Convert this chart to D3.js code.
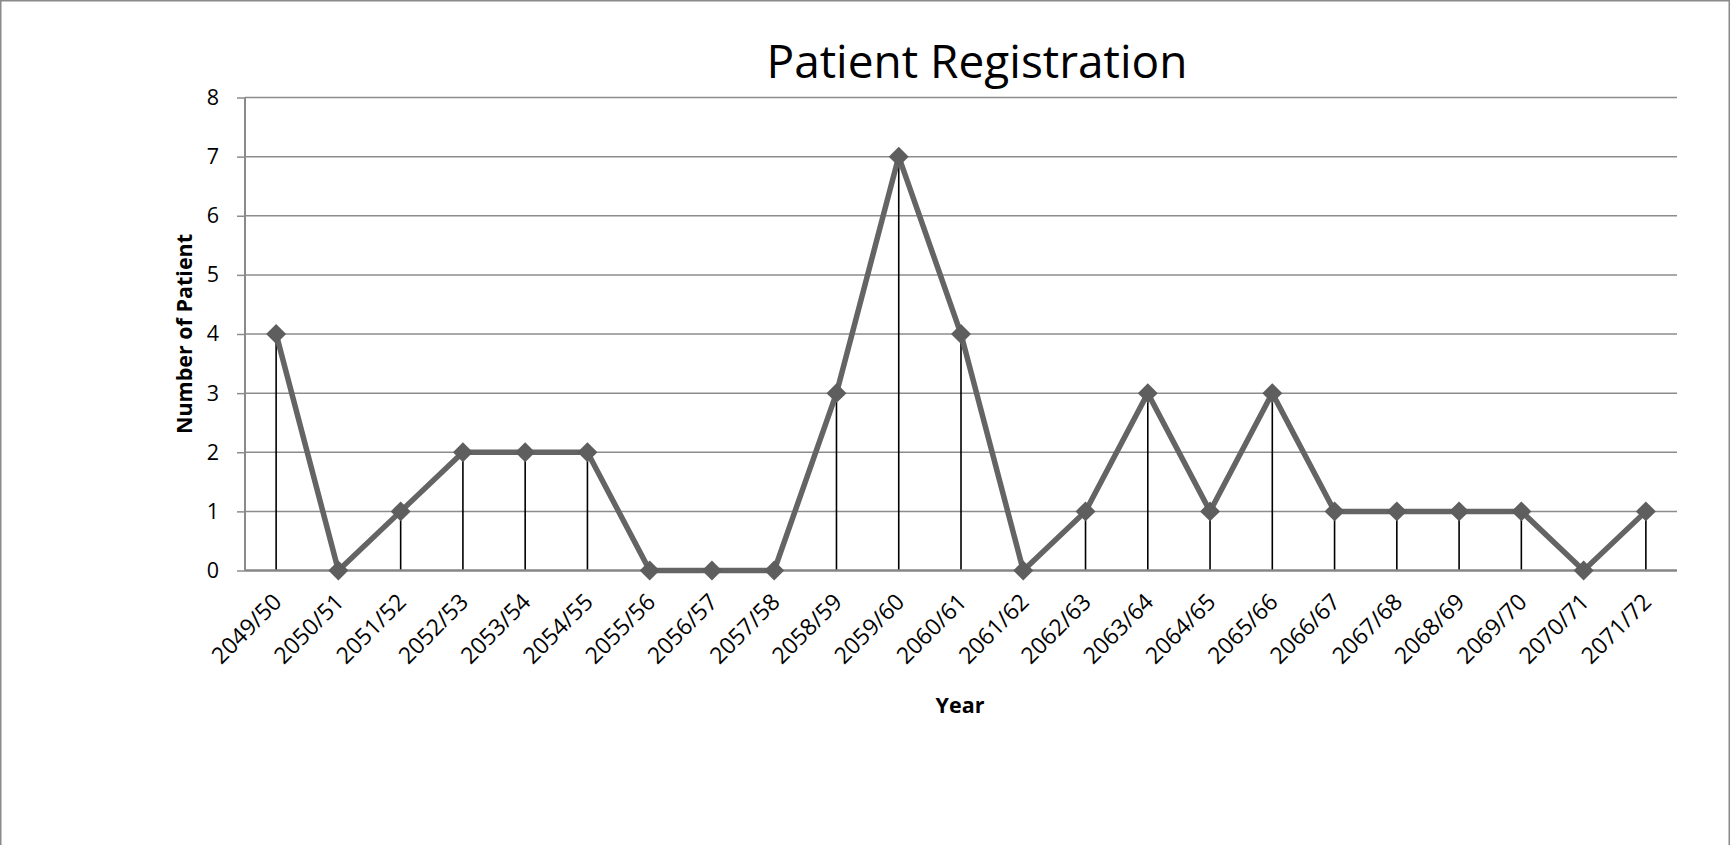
<!DOCTYPE html>
<html>
<head>
<meta charset="utf-8">
<script src="https://cdn.jsdelivr.net/npm/d3@7"></script>
<style>
    body { margin: 0; background: #ffffff; }
    text { font-family: "Open Sans", "Noto Sans", sans-serif; fill: #000; }
</style>
</head>
<body>
<div id="chart"></div>
<script>
// data
const years = ["2049/50", "2050/51", "2051/52", "2052/53", "2053/54", "2054/55", "2055/56",
    "2056/57", "2057/58", "2058/59", "2059/60", "2060/61", "2061/62", "2062/63", "2063/64",
    "2064/65", "2065/66", "2066/67", "2067/68", "2068/69", "2069/70", "2070/71", "2071/72"];
const patients = [4, 0, 1, 2, 2, 2, 0, 0, 0, 3, 7, 4, 0, 1, 3, 1, 3, 1, 1, 1, 1, 0, 1];
const yTicks = [0, 1, 2, 3, 4, 5, 6, 7, 8];

const svgWidth = 1730;
const svgHeight = 845;

const margin = { top: 97.5, right: 53, bottom: 274.5, left: 245 };
const chartWidth = svgWidth - margin.left - margin.right;
const chartHeight = svgHeight - margin.top - margin.bottom;

const svg = d3.select("#chart").append("svg")
    .attr("width", svgWidth)
    .attr("height", svgHeight);

// outer frame
svg.append("rect")
    .attr("x", 0.75).attr("y", 0.75)
    .attr("width", svgWidth - 1.5).attr("height", svgHeight + 10)
    .attr("fill", "none")
    .attr("stroke", "#8a8a8a")
    .attr("stroke-width", 1.5);

const chartGroup = svg.append("g")
    .attr("transform", `translate(${margin.left}, ${margin.top})`);

const xScale = d3.scaleBand()
    .domain(years)
    .range([0, chartWidth])
    .padding(0);

const yScale = d3.scaleLinear()
    .domain([0, 8])
    .range([chartHeight, 0]);

const xPos = d => xScale(d) + xScale.bandwidth() / 2;

// gridlines
chartGroup.append("g")
    .selectAll("line").data(yTicks.filter(t => t > 0))
    .enter().append("line")
    .attr("x1", 0)
    .attr("x2", chartWidth)
    .attr("y1", d => yScale(d))
    .attr("y2", d => yScale(d))
    .attr("stroke", "#8c8c8c")
    .attr("stroke-width", 1.5);

// y axis
const yAxis = d3.axisLeft(yScale)
    .tickValues(yTicks)
    .tickSize(8)
    .tickPadding(18)
    .tickFormat(d3.format("d"));

const yAxisG = chartGroup.append("g").call(yAxis);
yAxisG.select(".domain").remove();
yAxisG.selectAll(".tick line")
    .attr("stroke", "#8c8c8c")
    .attr("stroke-width", 1.5);
yAxisG.selectAll(".tick text")
    .attr("font-size", "21.5px")
    .attr("font-family", "'Open Sans', sans-serif")
    .attr("fill", "#000");

chartGroup.append("line")
    .attr("x1", 0).attr("x2", 0)
    .attr("y1", 0).attr("y2", chartHeight)
    .attr("stroke", "#8a8a8a")
    .attr("stroke-width", 2);

// x axis
const xAxis = d3.axisBottom(xScale).tickSize(0).tickPadding(0);
const xAxisG = chartGroup.append("g")
    .attr("transform", `translate(0, ${chartHeight})`)
    .call(xAxis);
xAxisG.select(".domain").remove();
xAxisG.selectAll(".tick text")
    .attr("font-size", "23px")
    .attr("font-family", "'Open Sans', sans-serif")
    .attr("fill", "#000")
    .attr("text-anchor", "end")
    .attr("dy", 0)
    .attr("y", 0)
    .attr("transform", "translate(7, 33) rotate(-45)");

// drop lines
chartGroup.selectAll(".drop").data(patients)
    .enter().append("line")
    .attr("class", "drop")
    .attr("x1", (d, i) => xPos(years[i]))
    .attr("x2", (d, i) => xPos(years[i]))
    .attr("y1", d => yScale(d))
    .attr("y2", yScale(0))
    .attr("stroke", "#000")
    .attr("stroke-width", 1.6);

chartGroup.append("line")
    .attr("x1", 0).attr("x2", chartWidth)
    .attr("y1", yScale(0)).attr("y2", yScale(0))
    .attr("stroke", "#868686")
    .attr("stroke-width", 2.5);

// series line
const line = d3.line()
    .x((d, i) => xPos(years[i]))
    .y(d => yScale(d));

chartGroup.append("path")
    .datum(patients)
    .attr("d", line)
    .attr("fill", "none")
    .attr("stroke", "#646464")
    .attr("stroke-width", 5.5)
    .attr("stroke-linejoin", "miter");

// diamond markers
const diamond = d3.symbol().type(d3.symbolSquare).size(200);
chartGroup.selectAll(".marker").data(patients)
    .enter().append("path")
    .attr("class", "marker")
    .attr("d", diamond)
    .attr("transform", (d, i) => `translate(${xPos(years[i])}, ${yScale(d)}) rotate(45)`)
    .attr("fill", "#5e5e5e");

// titles
svg.append("text")
    .attr("x", 977)
    .attr("y", 78)
    .attr("text-anchor", "middle")
    .attr("font-size", "46px")
    .text("Patient Registration");

svg.append("text")
    .attr("x", 960)
    .attr("y", 713)
    .attr("text-anchor", "middle")
    .attr("font-size", "21.5px")
    .attr("font-weight", "bold")
    .text("Year");

svg.append("text")
    .attr("transform", `translate(192, ${margin.top + chartHeight / 2}) rotate(-90)`)
    .attr("text-anchor", "middle")
    .attr("font-size", "21.5px")
    .attr("font-weight", "bold")
    .text("Number of Patient");
</script>
</body>
</html>
